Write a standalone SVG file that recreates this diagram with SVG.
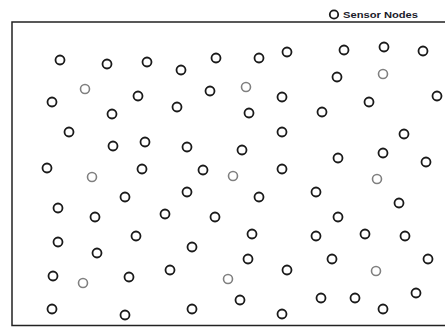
<svg xmlns="http://www.w3.org/2000/svg" width="445" height="327" viewBox="0 0 445 327">
<style>
.n{fill:none;stroke:#1a1a1a;stroke-width:1.8}
.l{fill:none;stroke:#808080;stroke-width:1.6}
.t{font-family:"Liberation Sans",Arial,sans-serif;font-size:8.5px;font-weight:bold;fill:#1a1a2a}
</style>
<rect x="12" y="22" width="440" height="303.5" fill="none" stroke="#222" stroke-width="1.5"/>
<g id="legend">
<circle class="n" cx="334" cy="14.5" r="4.2"/>
<text class="t" x="343" y="17.5" textLength="75" lengthAdjust="spacingAndGlyphs">Sensor Nodes</text>
</g>
<g id="nodes">
<circle class="n" cx="60" cy="60" r="4.5"/>
<circle class="n" cx="107" cy="64" r="4.5"/>
<circle class="n" cx="147" cy="62" r="4.5"/>
<circle class="n" cx="181" cy="70" r="4.5"/>
<circle class="n" cx="216" cy="58" r="4.5"/>
<circle class="n" cx="259" cy="58" r="4.5"/>
<circle class="n" cx="287" cy="52" r="4.5"/>
<circle class="n" cx="344" cy="50" r="4.5"/>
<circle class="n" cx="384" cy="47" r="4.5"/>
<circle class="n" cx="423" cy="51" r="4.5"/>
<circle class="l" cx="85" cy="89" r="4.5"/>
<circle class="n" cx="52" cy="102" r="4.5"/>
<circle class="n" cx="138" cy="96" r="4.5"/>
<circle class="n" cx="112" cy="114" r="4.5"/>
<circle class="n" cx="177" cy="107" r="4.5"/>
<circle class="n" cx="210" cy="91" r="4.5"/>
<circle class="l" cx="246" cy="87" r="4.5"/>
<circle class="n" cx="282" cy="97" r="4.5"/>
<circle class="n" cx="249" cy="113" r="4.5"/>
<circle class="n" cx="337" cy="77" r="4.5"/>
<circle class="l" cx="383" cy="74" r="4.5"/>
<circle class="n" cx="437" cy="96" r="4.5"/>
<circle class="n" cx="369" cy="102" r="4.5"/>
<circle class="n" cx="322" cy="112" r="4.5"/>
<circle class="n" cx="69" cy="132" r="4.5"/>
<circle class="n" cx="113" cy="146" r="4.5"/>
<circle class="n" cx="145" cy="142" r="4.5"/>
<circle class="n" cx="187" cy="147" r="4.5"/>
<circle class="n" cx="242" cy="150" r="4.5"/>
<circle class="n" cx="282" cy="132" r="4.5"/>
<circle class="n" cx="404" cy="134" r="4.5"/>
<circle class="n" cx="47" cy="168" r="4.5"/>
<circle class="l" cx="92" cy="177" r="4.5"/>
<circle class="n" cx="142" cy="169" r="4.5"/>
<circle class="n" cx="203" cy="170" r="4.5"/>
<circle class="l" cx="233" cy="176" r="4.5"/>
<circle class="n" cx="282" cy="169" r="4.5"/>
<circle class="n" cx="338" cy="158" r="4.5"/>
<circle class="n" cx="383" cy="153" r="4.5"/>
<circle class="n" cx="426" cy="162" r="4.5"/>
<circle class="l" cx="377" cy="179" r="4.5"/>
<circle class="n" cx="125" cy="197" r="4.5"/>
<circle class="n" cx="58" cy="208" r="4.5"/>
<circle class="n" cx="95" cy="217" r="4.5"/>
<circle class="n" cx="187" cy="192" r="4.5"/>
<circle class="n" cx="259" cy="197" r="4.5"/>
<circle class="n" cx="165" cy="214" r="4.5"/>
<circle class="n" cx="215" cy="217" r="4.5"/>
<circle class="n" cx="316" cy="192" r="4.5"/>
<circle class="n" cx="399" cy="203" r="4.5"/>
<circle class="n" cx="338" cy="217" r="4.5"/>
<circle class="n" cx="58" cy="242" r="4.5"/>
<circle class="n" cx="97" cy="253" r="4.5"/>
<circle class="n" cx="136" cy="236" r="4.5"/>
<circle class="n" cx="192" cy="247" r="4.5"/>
<circle class="n" cx="252" cy="234" r="4.5"/>
<circle class="n" cx="248" cy="259" r="4.5"/>
<circle class="n" cx="316" cy="236" r="4.5"/>
<circle class="n" cx="365" cy="234" r="4.5"/>
<circle class="n" cx="405" cy="236" r="4.5"/>
<circle class="n" cx="332" cy="259" r="4.5"/>
<circle class="n" cx="428" cy="259" r="4.5"/>
<circle class="n" cx="53" cy="276" r="4.5"/>
<circle class="l" cx="83" cy="283" r="4.5"/>
<circle class="n" cx="129" cy="277" r="4.5"/>
<circle class="n" cx="170" cy="270" r="4.5"/>
<circle class="l" cx="228" cy="279" r="4.5"/>
<circle class="n" cx="287" cy="270" r="4.5"/>
<circle class="l" cx="376" cy="271" r="4.5"/>
<circle class="n" cx="52" cy="309" r="4.5"/>
<circle class="n" cx="125" cy="315" r="4.5"/>
<circle class="n" cx="192" cy="309" r="4.5"/>
<circle class="n" cx="240" cy="300" r="4.5"/>
<circle class="n" cx="282" cy="314" r="4.5"/>
<circle class="n" cx="321" cy="298" r="4.5"/>
<circle class="n" cx="355" cy="298" r="4.5"/>
<circle class="n" cx="383" cy="309" r="4.5"/>
<circle class="n" cx="416" cy="293" r="4.5"/>
</g>
<g id="connectors"></g>
</svg>
